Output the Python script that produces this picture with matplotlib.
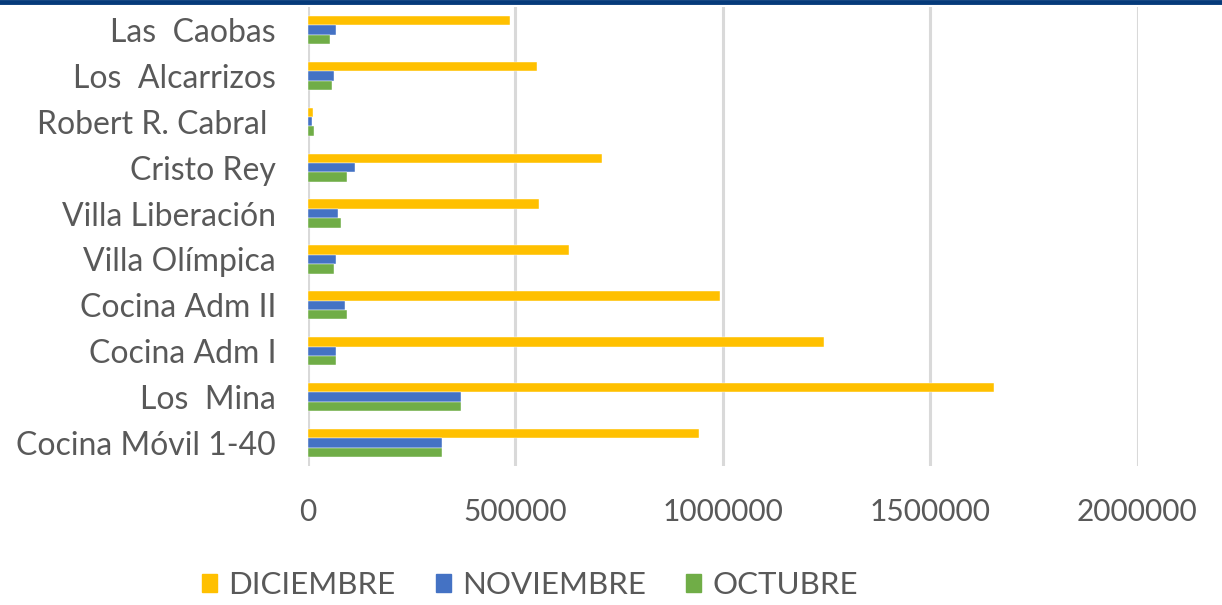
import matplotlib
matplotlib.use("Agg")
import matplotlib.pyplot as plt
import numpy as np
from matplotlib.patches import Rectangle
from matplotlib.lines import Line2D

categories = ["Cocina Móvil 1-40", "Los  Mina", "Cocina Adm I", "Cocina Adm II",
              "Villa Olímpica", "Villa Liberación", "Cristo Rey",
              "Robert R. Cabral ", "Los  Alcarrizos", "Las  Caobas"]
series_names = ["DICIEMBRE", "NOVIEMBRE", "OCTUBRE"]
diciembre = [942000, 1655000, 1245000, 993000, 630000, 556000, 710000, 11500, 551000, 487000]
noviembre = [322000, 369000, 67000, 90000, 67000, 72000, 113500, 8700, 63000, 67700]
octubre = [322000, 369000, 67000, 94500, 62000, 80000, 94500, 15400, 58000, 53500]
x_ticks = [0, 500000, 1000000, 1500000, 2000000]
colors = ["#FFC000", "#4472C4", "#70AD47"]

plt.rcParams['font.family'] = ['Lato', 'DejaVu Sans']
text_color = "#595959"

fig = plt.figure(figsize=(12.22, 6.05), dpi=100)
ax = fig.add_axes([308/1222, 1-466/605, (1137.5-308)/1222, (466-7)/605])

y = np.arange(len(categories))
h = 0.205
for i, (vals, col, name) in enumerate(zip([diciembre, noviembre, octubre], colors, series_names)):
    ax.barh(y + (1 - i) * h, vals, height=h, color=col, label=name, zorder=3,
            edgecolor="white", linewidth=0.3)

ax.set_xlim(0, 2000000)
ax.set_ylim(-0.5, len(categories) - 0.5)
ax.set_xticks(x_ticks)
ax.set_xticklabels([str(v) for v in x_ticks])
ax.set_yticks(y)
ax.set_yticklabels(categories)
ax.tick_params(axis='x', length=0, labelsize=21.5, colors=text_color, pad=23)
ax.tick_params(axis='y', length=0, labelsize=23, colors=text_color, pad=23)
ax.grid(axis='x', color="#D9D9D9", linewidth=2.2, zorder=0)
for s in ax.spines.values():
    s.set_visible(False)

handles = [Rectangle((0, 0), 1, 1, color=c) for c in colors]
fig.legend(handles, series_names, loc='center', bbox_to_anchor=(530/1222, 1-585/605),
           ncol=3, frameon=False, fontsize=22.5, labelcolor=text_color,
           handlelength=0.48, handleheight=0.48, handletextpad=0.35, columnspacing=1.3)

fig.add_artist(Line2D([0, 1], [1-2/605, 1-2/605], color="#053A7A", linewidth=3.5,
                      transform=fig.transFigure))

fig.savefig("out.png", dpi=100)
